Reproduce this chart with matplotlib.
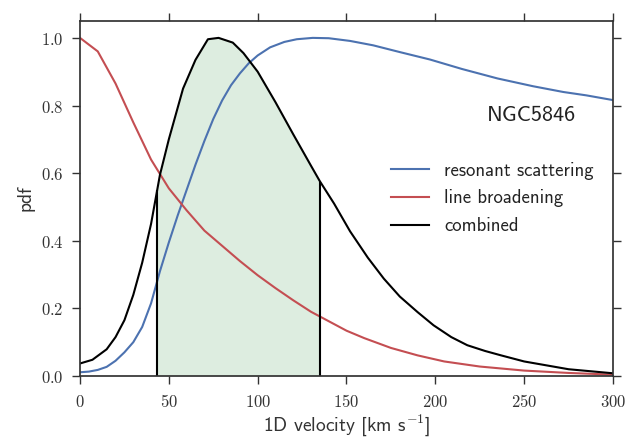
import os
import numpy as np
import matplotlib
matplotlib.use("Agg")
import matplotlib.pyplot as plt
from matplotlib.font_manager import FontProperties
from matplotlib.ticker import FuncFormatter, MultipleLocator

# velocity grid [km/s] and the three normalised distributions
vel_scatter = [0, 5, 10, 15, 20, 25, 30, 35, 40, 45, 50, 55, 60, 65, 70, 75, 80, 85, 90,
               95, 100, 107, 115, 122, 131, 140, 152, 165, 180, 197, 215, 235, 255, 272,
               285, 300]
pdf_scatter = [0.011, 0.013, 0.018, 0.027, 0.045, 0.07, 0.10, 0.145, 0.215, 0.31, 0.395,
               0.475, 0.55, 0.625, 0.695, 0.76, 0.815, 0.86, 0.895, 0.925, 0.948, 0.972,
               0.988, 0.996, 1.0, 0.999, 0.991, 0.978, 0.958, 0.936, 0.908, 0.88, 0.857,
               0.84, 0.83, 0.816]

vel_broad = [0, 10, 20, 30, 40, 50, 60, 70, 80, 90, 100, 110, 120, 130, 140, 150, 160,
             175, 190, 205, 225, 250, 275, 300]
pdf_broad = [1.0, 0.96, 0.865, 0.75, 0.64, 0.555, 0.49, 0.43, 0.385, 0.34, 0.298, 0.26,
             0.224, 0.19, 0.162, 0.134, 0.112, 0.083, 0.061, 0.043, 0.028, 0.016, 0.009,
             0.004]

vel_comb = [0, 7, 15, 20, 25, 30, 35, 40, 45, 50, 58, 65, 72, 78, 86, 92, 100, 110, 120,
            130, 135, 143, 152, 162, 171, 180, 190, 199, 209, 218, 228, 237, 250, 275, 300]
pdf_comb = [0.037, 0.048, 0.079, 0.115, 0.165, 0.24, 0.335, 0.45, 0.595, 0.70, 0.85,
            0.935, 0.996, 1.0, 0.986, 0.955, 0.90, 0.81, 0.715, 0.622, 0.576, 0.51, 0.428,
            0.35, 0.288, 0.235, 0.189, 0.15, 0.115, 0.091, 0.074, 0.061, 0.043, 0.02,
            0.008]

# credible interval on the combined distribution
interval = (43.5, 135.3)

series_labels = ["resonant scattering", "line broadening", "combined"]
target_name = "NGC5846"
xlabel = r"1D velocity [km s$^{-1}$]"
ylabel = "pdf"

plt.rcParams["mathtext.fontset"] = "cm"
sans_path = os.path.join(matplotlib.get_data_path(), "fonts", "ttf", "cmss10.ttf")

def sans(size):
    return FontProperties(fname=sans_path, size=size)

fig = plt.figure(figsize=(6.38, 4.37), dpi=100)
ax = fig.add_axes([0.1254, 0.1396, 0.8354, 0.8124])

ax.plot(vel_scatter, pdf_scatter, color="#4C72B0", lw=1.5, label=series_labels[0])
ax.plot(vel_broad, pdf_broad, color="#C44E52", lw=1.5, label=series_labels[1])
ax.plot(vel_comb, pdf_comb, color="black", lw=1.5, label=series_labels[2])

# shade the interval under the combined curve
lo, hi = interval
xs = np.concatenate([[lo], [v for v in vel_comb if lo < v < hi], [hi]])
ys = np.interp(xs, vel_comb, pdf_comb)
ax.fill_between(xs, 0, ys, color="#55A868", alpha=0.2, lw=0)
ax.vlines([lo, hi], 0, np.interp([lo, hi], vel_comb, pdf_comb), color="black", lw=1.5)

ax.set_xlim(0, 300)
ax.set_ylim(0, 1.05)
ax.xaxis.set_major_locator(MultipleLocator(50))
ax.yaxis.set_major_locator(MultipleLocator(0.2))
ax.xaxis.set_major_formatter(FuncFormatter(lambda v, p: r"$%d$" % v))
ax.yaxis.set_major_formatter(FuncFormatter(lambda v, p: r"$%.1f$" % v))
ax.tick_params(direction="out", length=6, width=1, color="#333333", top=True,
               right=True, labelsize=12, pad=6, labelcolor="#333333")
for sp in ax.spines.values():
    sp.set_linewidth(1.25)
    sp.set_color("#333333")

ax.set_xlabel(xlabel, fontproperties=sans(14), color="#333333", labelpad=1)
ax.set_ylabel(ylabel, fontproperties=sans(14), color="#333333", labelpad=4)

ax.text(0.764, 0.719, target_name, transform=ax.transAxes, fontproperties=sans(16),
        ha="left", va="baseline", color="#222222")

leg = ax.legend(loc="center left", bbox_to_anchor=(0.551, 0.50), frameon=False,
                prop=sans(13.5), handlelength=2.05, handletextpad=0.82, labelspacing=0.52)
for t in leg.get_texts():
    t.set_color("#222222")

fig.savefig("out.png", dpi=100)
